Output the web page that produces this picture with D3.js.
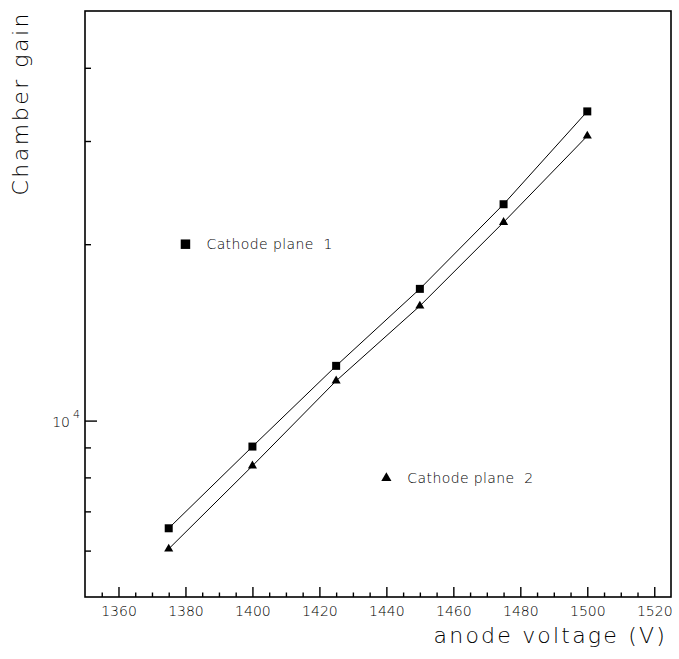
<!DOCTYPE html>
<html>
<head>
<meta charset="utf-8">
<script src="https://cdn.jsdelivr.net/npm/d3@7"></script>
<style>
  body { margin: 0; background: #fff; }
  svg text { font-family: "DejaVu Sans", sans-serif; font-weight: 200; fill: #000; }
</style>
</head>
<body>
<svg id="chart"></svg>
<script>
// anode voltage (V)
const voltages = [1375, 1400, 1425, 1450, 1475, 1500];
// chamber gain, cathode plane 1 (squares) and plane 2 (triangles)
const gainPlane1 = [6550, 9030, 12400, 16780, 23400, 33700];
const gainPlane2 = [6040, 8370, 11690, 15690, 21800, 30600];
const xMajorTicks = [1360, 1380, 1400, 1420, 1440, 1460, 1480, 1500, 1520];
const yMinorTicks = [6000, 7000, 8000, 9000, 20000, 30000, 40000];
const yMajorTicks = [10000];
const legendLabels = ['Cathode plane  1', 'Cathode plane  2'];

const margin = {top: 11, right: 8, bottom: 62, left: 85};
const width = 679 - margin.left - margin.right;
const height = 659 - margin.top - margin.bottom;

const svg = d3.select('#chart')
    .attr('width', 679)
    .attr('height', 659)
    .append('g')
    .attr('transform', `translate(${margin.left},${margin.top})`);

const x = d3.scaleLinear().domain([1350, 1525]).range([0, width]);
const y = d3.scaleLog().domain([5000, 50000]).range([height, 0]);

// frame
svg.append('rect')
    .attr('width', width)
    .attr('height', height)
    .attr('fill', 'none')
    .attr('stroke', '#000')
    .attr('stroke-width', 1.6);

// x axis ticks (drawn upward, inside)
const xMinor = d3.range(1355, 1525, 5).filter(v => v % 20 !== 0);
svg.append('g')
    .attr('transform', `translate(0,${height})`)
    .call(d3.axisBottom(x).tickValues(xMinor).tickSize(-4.5).tickFormat(''))
    .call(g => g.select('.domain').remove());

svg.append('g')
    .attr('transform', `translate(0,${height})`)
    .call(d3.axisBottom(x).tickValues(xMajorTicks).tickSize(-10).tickPadding(19).tickFormat(d3.format('d')))
    .call(g => g.select('.domain').remove())
    .call(g => g.selectAll('text').attr('font-size', 14).attr('dy', '0'));

// y axis ticks (drawn rightward, inside)
svg.append('g')
    .call(d3.axisLeft(y).tickValues(yMinorTicks).tickSize(-6).tickFormat(''))
    .call(g => g.select('.domain').remove());

svg.append('g')
    .call(d3.axisLeft(y).tickValues(yMajorTicks).tickSize(-12).tickFormat(''))
    .call(g => g.select('.domain').remove());

svg.selectAll('.tick line').attr('stroke', '#000').attr('stroke-width', 1.4);

// 10^4 label
yMajorTicks.forEach(v => {
    const e = Math.round(Math.log10(v));
    svg.append('text')
        .attr('x', -15)
        .attr('y', y(v) + 6)
        .attr('text-anchor', 'end')
        .attr('font-size', 14)
        .text('10');
    svg.append('text')
        .attr('x', -12)
        .attr('y', y(v) - 3)
        .attr('font-size', 11)
        .text(e);
});

// lines through the measured points
const line = d3.line().x(d => x(d[0])).y(d => y(d[1]));

[gainPlane1, gainPlane2].forEach(gains => {
    svg.append('path')
        .attr('d', line(voltages.map((v, i) => [v, gains[i]])))
        .attr('fill', 'none')
        .attr('stroke', '#000')
        .attr('stroke-width', 1);
});

// markers
const square = d3.symbol().type(d3.symbolSquare).size(64);
const triangle = d3.symbol().type(d3.symbolTriangle).size(36);

svg.selectAll('.sq')
    .data(voltages)
    .enter()
    .append('path')
    .attr('d', square)
    .attr('transform', (d, i) => `translate(${x(d)},${y(gainPlane1[i])})`)
    .attr('fill', '#000');

svg.selectAll('.tri')
    .data(voltages)
    .enter()
    .append('path')
    .attr('d', triangle)
    .attr('transform', (d, i) => `translate(${x(d)},${y(gainPlane2[i])})`)
    .attr('fill', '#000');

// legend entries placed in data coordinates
const legend = [
    {vx: 1380, vy: 20000, sym: d3.symbol().type(d3.symbolSquare).size(90)},
    {vx: 1440, vy: 7980, sym: d3.symbol().type(d3.symbolTriangle).size(45)}
];
legend.forEach((l, i) => {
    svg.append('path')
        .attr('d', l.sym())
        .attr('transform', `translate(${x(l.vx)},${y(l.vy)})`)
        .attr('fill', '#000');
    svg.append('text')
        .attr('x', x(l.vx) + 21)
        .attr('y', y(l.vy) + 5)
        .attr('font-size', 14)
        .attr('xml:space', 'preserve')
        .style('white-space', 'pre')
        .style('letter-spacing', '0.4px')
        .text(legendLabels[i]);
});

// axis titles
svg.append('text')
    .attr('text-anchor', 'end')
    .attr('x', width - 4)
    .attr('y', height + 46)
    .attr('font-size', 22)
    .style('letter-spacing', '2.2px')
    .text('anode voltage (V)');

svg.append('text')
    .attr('text-anchor', 'end')
    .attr('transform', 'rotate(-90)')
    .attr('x', 0)
    .attr('y', -57)
    .attr('font-size', 22)
    .style('letter-spacing', '2.5px')
    .text('Chamber gain');
</script>
</body>
</html>
